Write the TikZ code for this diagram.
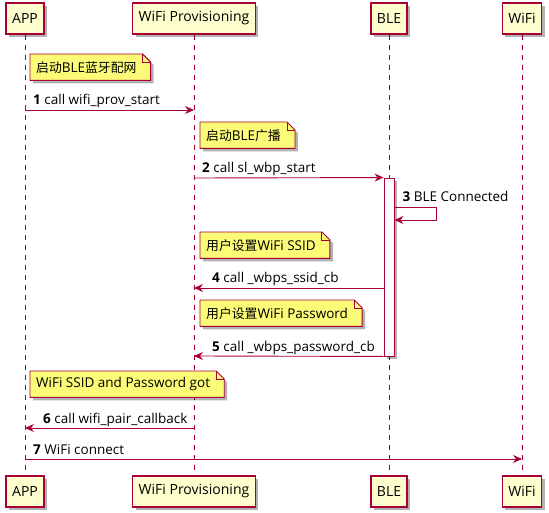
\documentclass[tikz,border=0pt]{standalone}
\usepackage{fontspec}
\setmainfont{Open Sans}
\newfontfamily\cjk[Scale=0.95]{Noto Sans CJK SC}
\usetikzlibrary{arrows.meta,shadows,backgrounds}
\definecolor{umlred}{HTML}{A80036}
\definecolor{umlbox}{HTML}{FEFECE}
\definecolor{umlnote}{HTML}{FBFB77}
\tikzstyle{umlshadow} = [drop shadow={shadow xshift=3pt, shadow yshift=-3pt, opacity=0.3, fill=black}]
\tikzstyle{partbox} = [rectangle, draw=umlred, fill=umlbox, line width=1.3pt, minimum height=31pt, inner xsep=6pt, inner ysep=0pt, font=\fontsize{14}{16}\selectfont, umlshadow]
\tikzstyle{notebox} = [anchor=north west, minimum height=26pt, inner xsep=6pt, inner ysep=0pt, font=\fontsize{13.5}{15}\selectfont, execute at end node={\hspace{8pt}}]
\tikzstyle{msgtext} = [anchor=base west, inner sep=0pt, font=\fontsize{13.5}{15}\selectfont]
\tikzstyle{msgline} = [line width=0.9pt, color=umlred, ->, >={Stealth[length=9pt,width=8pt,inset=3pt]}]
\tikzstyle{lifeline} = [line width=0.9pt, color=umlred, dash pattern=on 5pt off 5pt]

\begin{document}
\begin{tikzpicture}[x=1pt, y=-1pt]
\useasboundingbox (0,0) rectangle (549,513);
% Participants
\node (appTop) [partbox] at (25,18.5) {APP};
\node (provTop) [partbox] at (194,18.5) {WiFi Provisioning};
\node (bleTop) [partbox] at (389,18.5) {BLE};
\node (wifiTop) [partbox] at (522,18.5) {WiFi};
\node (appBot) [partbox] at (25,491.5) {APP};
\node (provBot) [partbox] at (194,491.5) {WiFi Provisioning};
\node (bleBot) [partbox] at (389,491.5) {BLE};
\node (wifiBot) [partbox] at (522,491.5) {WiFi};

% Rows
\coordinate (r1) at (0,110);
\coordinate (r2) at (0,178);
\coordinate (r3a) at (0,207);
\coordinate (r3b) at (0,220);
\coordinate (r4) at (0,288);
\coordinate (r5) at (0,356);
\coordinate (r6) at (0,428);
\coordinate (r7) at (0,459);

% Activation of BLE
\node (bleAct) [rectangle, draw=umlred, fill=white, line width=0.9pt, inner sep=0pt, minimum width=10pt, minimum height=178pt, umlshadow] at (389,267) {};

% Notes
\node (noteStart) [notebox] at (30,54) {{\cjk 启动}BLE{\cjk 蓝牙配网}};
\node (noteAdv) [notebox] at (200,122) {{\cjk 启动}BLE{\cjk 广播}};
\node (noteSsid) [notebox] at (200,232) {{\cjk 用户设置}WiFi SSID};
\node (notePwd) [notebox] at (200,300) {{\cjk 用户设置}WiFi Password};
\node (noteGot) [notebox] at (30,371) {WiFi SSID and Password got};

\begin{scope}[on background layer]
\foreach \p in {app,prov,ble,wifi}
  \draw[lifeline] (\p Top.south) -- (\p Bot.north);
\foreach \n in {noteStart,noteAdv,noteSsid,notePwd,noteGot} {
  \filldraw[fill=umlnote, draw=umlred, line width=0.9pt, umlshadow]
    (\n.south west) -- (\n.north west) -- ([xshift=-8pt]\n.north east)
    -- ([yshift=-8pt]\n.north east) -- (\n.south east) -- cycle;
  \draw[umlred, line width=0.9pt] ([xshift=-8pt]\n.north east) |- ([yshift=-8pt]\n.north east);
}
\end{scope}

% Messages
\draw[msgline] (appTop |- r1) -- (provTop |- r1);
\node (m1) [msgtext] at ([xshift=8pt,yshift=5pt]appTop |- r1) {\textbf{1} call wifi\_prov\_start};

\draw[msgline] (provTop |- r2) -- (bleAct.north west);
\node (m2) [msgtext] at ([xshift=8pt,yshift=5pt]provTop |- r2) {\textbf{2} call sl\_wbp\_start};

\draw[msgline] (bleAct.east |- r3a) -- ++(42,0) |- (bleAct.east |- r3b);
\node (m3) [msgtext] at ([xshift=8pt,yshift=5pt]bleAct.east |- r3a) {\textbf{3} BLE Connected};

\draw[msgline] (bleAct.west |- r4) -- (provTop |- r4);
\node (m4) [msgtext] at ([xshift=18pt,yshift=5pt]provTop |- r4) {\textbf{4} call \_wbps\_ssid\_cb};

\draw[msgline] (bleAct.south west) -- (provTop |- r5);
\node (m5) [msgtext] at ([xshift=18pt,yshift=5pt]provTop |- r5) {\textbf{5} call \_wbps\_password\_cb};

\draw[msgline] (provTop |- r6) -- (appTop |- r6);
\node (m6) [msgtext] at ([xshift=18pt,yshift=5pt]appTop |- r6) {\textbf{6} call wifi\_pair\_callback};

\draw[msgline] (appTop |- r7) -- (wifiTop |- r7);
\node (m7) [msgtext] at ([xshift=8pt,yshift=5pt]appTop |- r7) {\textbf{7} WiFi connect};
\end{tikzpicture}
\end{document}
